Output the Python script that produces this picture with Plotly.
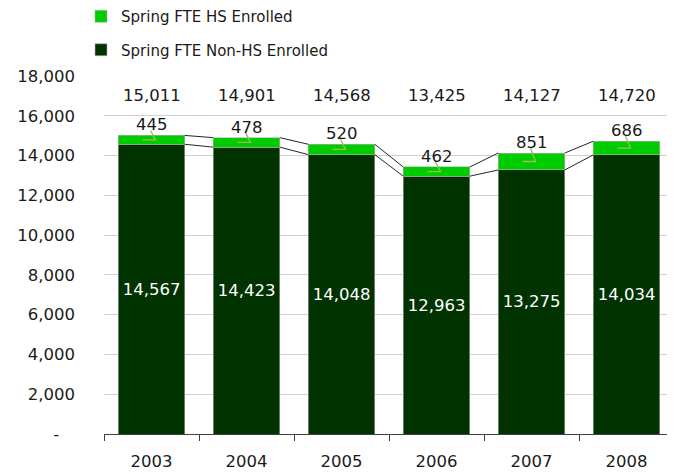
import plotly.graph_objects as go

years = ["2003", "2004", "2005", "2006", "2007", "2008"]
non_hs = [14567, 14423, 14048, 12963, 13275, 14034]
hs = [445, 478, 520, 462, 851, 686]
totals = [15011, 14901, 14568, 13425, 14127, 14720]
y_ticks = [0, 2000, 4000, 6000, 8000, 10000, 12000, 14000, 16000, 18000]
y_ticktext = ["-\u00a0\u00a0\u00a0"] + [f"{v:,}" for v in y_ticks[1:]]

FONT = "DejaVu Sans"
DARK = "#003300"
LIGHT = "#00CC00"
LEADER = "#9BBB59"
FS = 16.5

fig = go.Figure()
fig.add_trace(go.Bar(
    x=years, y=non_hs, name="Spring FTE Non-HS Enrolled",
    marker=dict(color=DARK, line=dict(color="#B0B0B0", width=0.6)),
    text=[f"{v:,}" for v in non_hs], textposition="inside",
    insidetextanchor="middle", textangle=0, constraintext="none",
    textfont=dict(color="white", size=FS, family=FONT),
    legendgroup="b", legendrank=2, hoverinfo="x+y",
))
fig.add_trace(go.Bar(
    x=years, y=hs, name="Spring FTE HS Enrolled",
    marker=dict(color=LIGHT, line=dict(color="#B0B0B0", width=0.6)),
    legendgroup="a", legendrank=1, hoverinfo="x+y",
))

half = 0.35
px_per_unit = 358 / 18000.0
cat_px = 95.0
shapes = []
# connector lines between bars
for i in range(len(years) - 1):
    for series in (non_hs, totals):
        shapes.append(dict(type="line", xref="x", yref="y",
                           x0=i + half, y0=series[i], x1=i + 1 - half, y1=series[i + 1],
                           line=dict(color="#262626", width=1)))
# leader lines for HS labels
for i in range(len(years)):
    top = totals[i] + 5 / px_per_unit
    mid = non_hs[i] + hs[i] / 2.0
    xa = i - 1 / cat_px
    xb = i + 4 / cat_px
    xc = i - 9 / cat_px
    shapes.append(dict(type="path", xref="x", yref="y",
                       path=f"M {xa},{top} L {xb},{mid} L {xc},{mid}",
                       line=dict(color=LEADER, width=1.3)))

annotations = []
for i in range(len(years)):
    annotations.append(dict(x=i, y=17000, xref="x", yref="y", text=f"{totals[i]:,}",
                            showarrow=False, font=dict(size=FS, color="#1a1a1a", family=FONT)))
    annotations.append(dict(x=i, y=totals[i], xref="x", yref="y", text=f"{hs[i]:,}",
                            showarrow=False, yanchor="bottom", yshift=-1,
                            font=dict(size=FS, color="#1a1a1a", family=FONT)))

fig.update_layout(
    barmode="stack", bargap=0.3,
    width=667, height=466,
    margin=dict(l=96, r=1, t=68, b=40, autoexpand=False),
    paper_bgcolor="white", plot_bgcolor="white",
    font=dict(family=FONT, size=14, color="#1a1a1a"),
    shapes=shapes, annotations=annotations,
    showlegend=True,
    legend=dict(x=-23 / 570, y=1 + (68 + 8) / 358,
                xanchor="left", yanchor="top", traceorder="grouped",
                tracegroupgap=11, font=dict(size=15, family=FONT, color="#1a1a1a"),
                itemwidth=30, bgcolor="rgba(0,0,0,0)"),
    xaxis=dict(type="category", tickson="boundaries", ticks="outside", ticklen=6,
               tickcolor="#404040", showline=True, linecolor="#404040", linewidth=1,
               showgrid=False, tickfont=dict(size=FS, family=FONT, color="#1a1a1a"),
               tickangle=0, automargin=False, ticklabelstandoff=12, range=[-0.5, 5.5]),
    yaxis=dict(range=[0, 18000], tickvals=y_ticks, ticktext=y_ticktext,
               showgrid=True, gridcolor="#D0D0D0", gridwidth=1, zeroline=False,
               showline=False, ticks="", ticklabelstandoff=28, automargin=False,
               tickfont=dict(size=FS, family=FONT, color="#1a1a1a")),
)

fig.write_html("out.html")
